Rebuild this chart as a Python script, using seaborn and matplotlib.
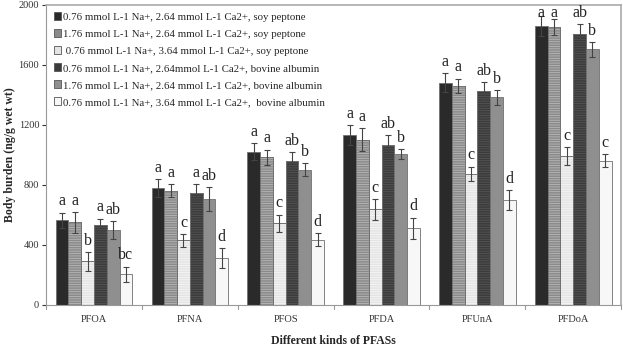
import numpy as np
import pandas as pd
import matplotlib
matplotlib.use("Agg")
import matplotlib.pyplot as plt
from matplotlib.patches import Rectangle
import seaborn as sns

# Data
compounds = ['PFOA', 'PFNA', 'PFOS', 'PFDA', 'PFUnA', 'PFDoA']
treatments = [
    '0.76 mmol L-1 Na+, 2.64 mmol L-1 Ca2+, soy peptone',
    '1.76 mmol L-1 Na+, 2.64 mmol L-1 Ca2+, soy peptone',
    ' 0.76 mmol L-1 Na+, 3.64 mmol L-1 Ca2+, soy peptone',
    '0.76 mmol L-1 Na+, 2.64mmol L-1 Ca2+, bovine albumin',
    '1.76 mmol L-1 Na+, 2.64 mmol L-1 Ca2+, bovine albumin',
    '0.76 mmol L-1 Na+, 3.64 mmol L-1 Ca2+,  bovine albumin',
]
means = [
    [565, 550, 290, 530, 500, 205],
    [780, 762, 430, 747, 705, 311],
    [1022, 984, 544, 962, 902, 435],
    [1131, 1102, 638, 1067, 1005, 511],
    [1482, 1462, 873, 1427, 1384, 700],
    [1860, 1851, 993, 1805, 1704, 962],
]
errors = [
    [50, 68, 62, 45, 58, 50],
    [58, 45, 42, 57, 80, 66],
    [56, 50, 58, 56, 42, 45],
    [67, 76, 69, 66, 33, 71],
    [62, 47, 49, 57, 49, 65],
    [65, 53, 58, 68, 49, 42],
]
letters = [
    ['a', 'a', 'b', 'a', 'ab', 'bc'],
    ['a', 'a', 'c', 'a', 'ab', 'd'],
    ['a', 'a', 'c', 'ab', 'b', 'd'],
    ['a', 'a', 'c', 'ab', 'b', 'd'],
    ['a', 'a', 'c', 'ab', 'b', 'd'],
    ['a', 'a', 'c', 'ab', 'b', 'c'],
]
fills = ['#2a2a2a', '#8a8a8a', '#e4e4e4', '#3b3b3b', '#8f8f8f', '#f7f7f7']
stripes = [None, '#b8b8b8', '#f6f6f6', '#555555', None, None]

rows = []
for i, c in enumerate(compounds):
    for j, t in enumerate(treatments):
        rows.append({'compound': c, 'treatment': t, 'value': means[i][j]})
df = pd.DataFrame(rows)

sns.set_style('white')
plt.rcParams['font.family'] = ['Liberation Serif', 'DejaVu Serif']
plt.rcParams['hatch.linewidth'] = 0.6

fig = plt.figure(figsize=(6.23, 3.5), dpi=100)
ax = fig.add_axes([0.074, 0.129, 0.923, 0.857])

sns.barplot(data=df, x='compound', y='value', hue='treatment', order=compounds,
            hue_order=treatments, palette=fills, width=0.8, errorbar=None,
            edgecolor='#707070', linewidth=0.6, ax=ax, saturation=1)

bar_groups = list(ax.containers)
for j, cont in enumerate(bar_groups):
    for i, patch in enumerate(cont.patches):
        x0, w, h = patch.get_x(), patch.get_width(), patch.get_height()
        if stripes[j] is not None:
            ax.add_patch(Rectangle((x0, 0), w, h, fill=False, hatch='-------',
                                   edgecolor=stripes[j], linewidth=0, zorder=patch.get_zorder() + 0.1))
            ax.add_patch(Rectangle((x0, 0), w, h, fill=False, edgecolor='#707070',
                                   linewidth=0.6, zorder=patch.get_zorder() + 0.2))
        xc = x0 + w / 2
        ax.errorbar(xc, means[i][j], yerr=errors[i][j], fmt='none', ecolor='#444444',
                    elinewidth=0.8, capsize=2, capthick=0.8, zorder=5)
        ytxt = min(means[i][j] + errors[i][j] + 22, 1895)
        ax.text(xc, ytxt, letters[i][j], ha='center', va='bottom',
                fontsize=11.5, color='#222222', zorder=6,
                bbox=dict(facecolor='none', edgecolor='none', pad=0))

ax.set_ylim(0, 2000)
ax.set_yticks([0, 400, 800, 1200, 1600, 2000])
ax.tick_params(axis='y', labelsize=7.5, colors='#333333', length=3, left=True, pad=2)
ax.tick_params(axis='x', labelsize=7.5, colors='#333333', length=0, pad=7)
ax.set_xticks(np.arange(len(compounds)))
ax.set_xticklabels(compounds)
for b in np.arange(len(compounds) + 1) - 0.5:
    ax.plot([b, b], [0, -25], color='#999999', lw=0.8, clip_on=False)
ax.set_xlim(-0.5, len(compounds) - 0.5)

ax.set_xlabel('Different kinds of PFASs', fontsize=8.5, fontweight='bold', labelpad=8)
ax.set_ylabel('Body burden (ng/g wet wt)', fontsize=8.5, fontweight='bold', labelpad=2)
for s in ['top', 'right']:
    ax.spines[s].set_color('#aaaaaa')
    ax.spines[s].set_linewidth(1.2)
for s in ['left', 'bottom']:
    ax.spines[s].set_color('#999999')
    ax.spines[s].set_linewidth(0.8)

leg = ax.legend(loc='upper left', bbox_to_anchor=(0.0, 1.0), frameon=False, fontsize=7.8,
                handlelength=0.7, handleheight=0.7, handletextpad=0.2, labelspacing=0.68,
                borderaxespad=0.3)
for h in leg.legend_handles:
    h.set_edgecolor('#555555')

fig.savefig('out.png', dpi=100)
